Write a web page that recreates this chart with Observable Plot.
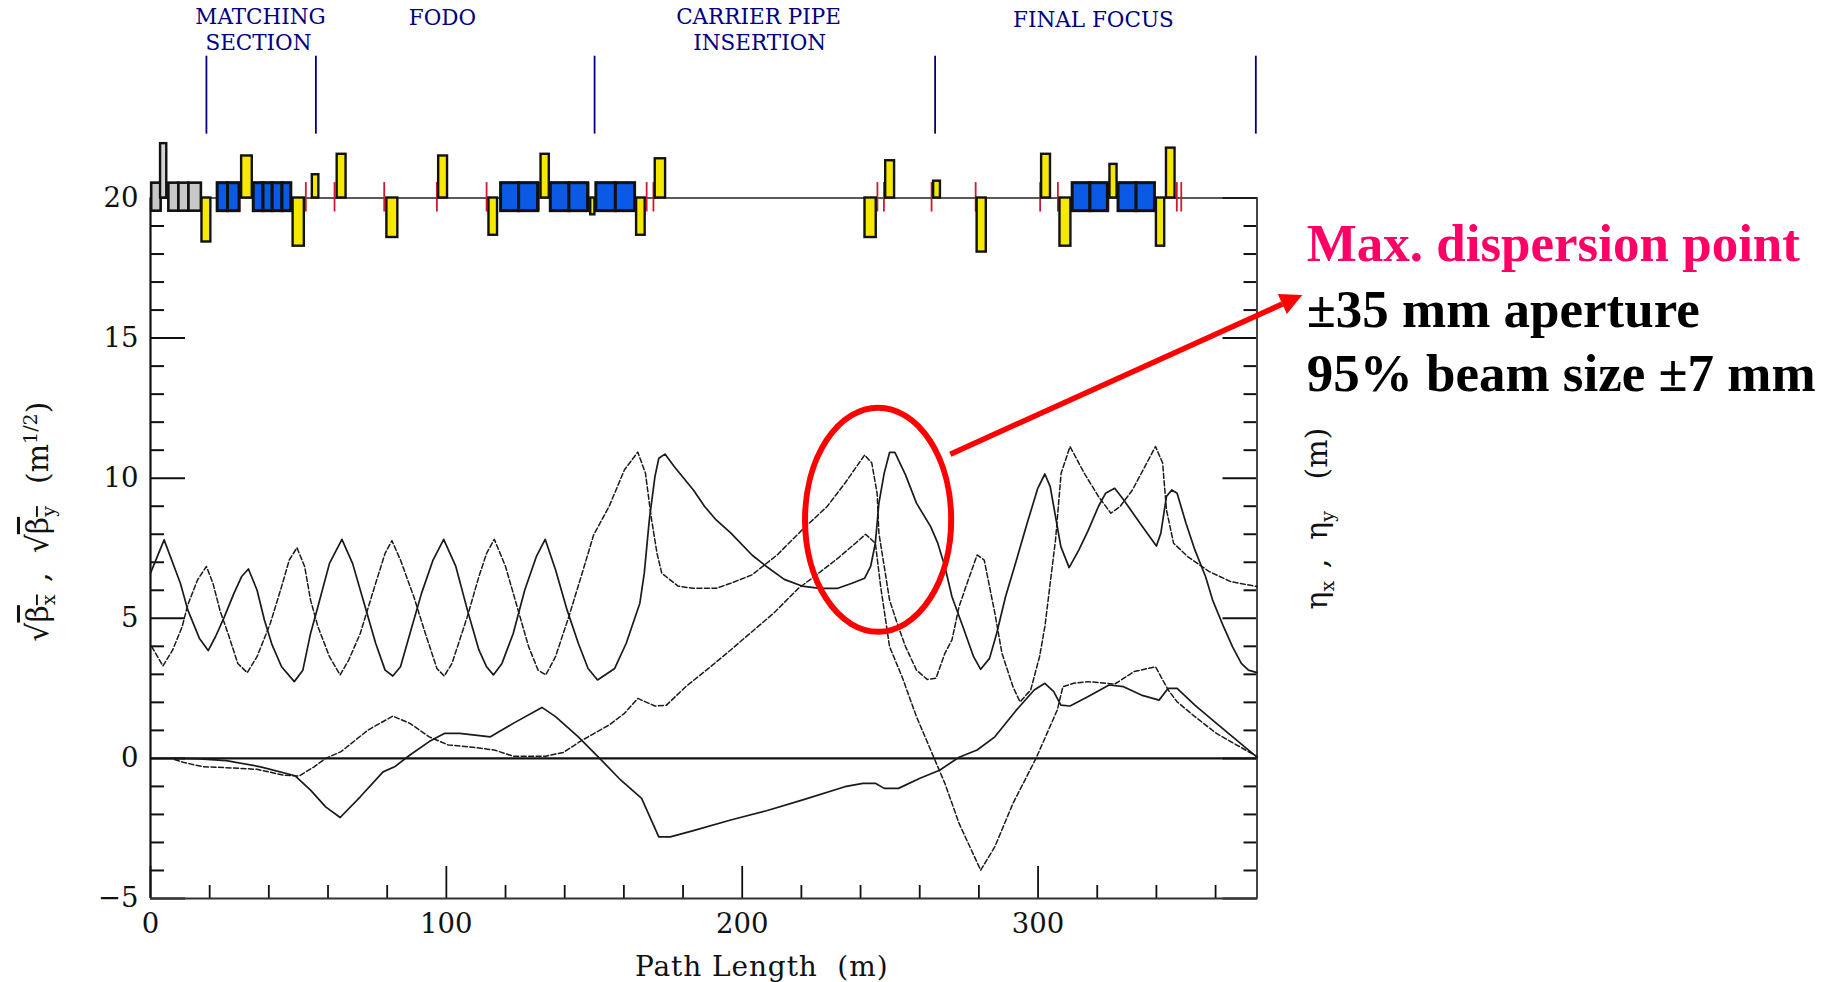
<!DOCTYPE html>
<html><head><meta charset="utf-8">
<script src="https://cdn.jsdelivr.net/npm/d3@7"></script>
<script src="https://cdn.jsdelivr.net/npm/@observablehq/plot@0.6"></script>
<style>html,body{margin:0;padding:0;background:#fff}svg{display:block}</style>
</head><body><div id="chart"></div>
<script>
const betaX=[[0,6.61],[4.6,7.8],[10.1,6.25],[12.6,5.3],[16.5,4.29],[19.5,3.85],[22,4.35],[25,5.06],[28.2,5.89],[30.8,6.49],[33.1,6.76],[36,6.01],[38.5,4.94],[41.1,4.05],[44.3,3.27],[48.6,2.74],[51.5,3.15],[54.1,4.46],[56.6,5.42],[60.5,6.96],[64.7,7.82],[68.3,6.96],[72.2,5.54],[76.1,4.11],[79.3,3.15],[81.9,2.94],[84.5,3.27],[87.7,4.46],[91.6,5.89],[95.5,7.08],[99.1,7.82],[103.2,6.85],[107.1,5.3],[111,3.87],[113.6,3.27],[115.9,2.98],[118.8,3.39],[122.6,4.46],[126.5,6.01],[130.4,7.2],[133.4,7.82],[136.9,6.73],[140.8,5.3],[144.6,4.11],[147.9,3.21],[151.1,2.8],[156.9,3.21],[160.8,4.11],[165.4,5.54],[166.9,6.61],[168.6,8.51],[170.5,10.06],[171.8,10.71],[173.9,10.86],[177,10.42],[183.5,9.58],[187.3,8.99],[191.2,8.51],[196.1,8.05],[203.3,7.26],[208.2,6.85],[214.2,6.39],[220.2,6.15],[226.3,6.07],[232.3,6.07],[237.1,6.25],[241.4,6.43],[243.4,6.85],[245,7.68],[246.2,9.11],[248,10.18],[249.8,10.92],[251.6,10.92],[255.2,10.12],[258.9,9.11],[263.7,8.27],[266.1,7.68],[268.5,6.85],[270.9,5.77],[274.6,4.7],[278.2,3.63],[280.6,3.18],[283.6,3.57],[286,4.46],[289,5.77],[292.7,7.08],[296.3,8.39],[299.9,9.64],[302.3,10.15],[304.1,9.7],[305.9,8.63],[307.7,7.56],[310.5,6.81],[313.8,7.44],[316.8,8.1],[320.4,8.99],[322.8,9.46],[325.9,9.64],[328.9,9.23],[332.5,8.69],[336.1,8.15],[340,7.58],[341.5,8.04],[343.4,9.35],[345.2,9.58],[347,9.46],[350,8.39],[353,7.44],[356.6,6.49],[359,5.65],[362.7,4.7],[365.7,3.99],[368.7,3.39],[371.1,3.15],[374,3.06]];
const betaY=[[0.4,3.99],[4.2,3.3],[7.5,3.87],[10.7,4.7],[12.6,5.48],[15.9,6.37],[18.9,6.85],[21.1,6.25],[23.6,5.24],[26.2,4.46],[29.5,3.39],[32.7,3.06],[36,3.63],[40.5,4.82],[44.3,6.13],[46.9,7.08],[49.5,7.52],[52.1,6.85],[54.1,5.65],[56.6,4.7],[60.5,3.63],[64.1,2.98],[67,3.51],[70.9,4.46],[76.1,6.25],[79.3,7.32],[81.6,7.77],[84.5,7.08],[89,5.77],[92.9,4.46],[96.8,3.21],[99.3,2.94],[101.9,3.39],[107.1,5.06],[111,6.49],[113.6,7.32],[116.2,7.82],[120,6.85],[123.9,5.42],[127.8,3.99],[131,3.15],[133.6,2.98],[136.9,3.63],[141.4,5.06],[145.9,6.61],[149.8,7.98],[155,8.99],[160.2,10.3],[164.7,10.93],[167.3,10.18],[169.2,8.63],[171.2,7.32],[172.8,6.61],[178.3,6.15],[183.5,6.07],[191.2,6.07],[196.1,6.25],[203.3,6.55],[211.8,7.26],[220.2,8.15],[228.7,8.99],[234.7,9.82],[241.4,10.83],[243.8,10.54],[245.6,9.46],[246.2,8.04],[248,6.85],[249.8,5.65],[252.2,4.88],[255.2,3.99],[258.9,3.15],[262.5,2.82],[265.5,2.86],[268.5,3.75],[270.9,4.23],[273.3,5.42],[276.4,6.37],[279.4,7.26],[281.8,7.08],[283.6,6.13],[285.4,5.18],[287.8,3.75],[291.5,2.56],[293.9,2.02],[297.5,2.44],[300.5,3.63],[302.3,4.7],[304.1,6.25],[305.9,7.8],[307.8,10.18],[310.8,11.13],[315.6,10.18],[320.4,9.35],[324.6,8.75],[327.7,8.99],[331.9,9.58],[339.7,11.13],[342.1,10.54],[343.4,8.87],[345.8,7.68],[350.6,7.2],[357.8,6.67],[365.1,6.31],[374.1,6.13]];
const etaX=[[8.1,0],[16.5,-0.02],[25.6,-0.08],[37.2,-0.3],[48.9,-0.62],[54.1,-1.13],[59.2,-1.73],[64.1,-2.11],[70.9,-1.37],[78.6,-0.48],[82.5,-0.3],[87.7,0.12],[94.2,0.6],[99.3,0.89],[104.5,0.89],[114.9,0.77],[122.6,1.25],[132.3,1.82],[136.9,1.49],[144.6,0.77],[152.4,-0.06],[158.9,-0.77],[166,-1.43],[171.8,-2.8],[175.7,-2.8],[183.5,-2.58],[196.1,-2.2],[208.2,-1.87],[220.2,-1.49],[234.7,-1.01],[240.8,-0.89],[245,-0.89],[248,-1.07],[252.8,-1.07],[260.1,-0.71],[266.7,-0.42],[273.3,0.04],[279.4,0.3],[285.4,0.77],[292.7,1.73],[298.7,2.44],[302.3,2.68],[305.3,2.38],[307.7,1.9],[310.8,1.87],[316.8,2.2],[324,2.62],[328.9,2.56],[334.9,2.26],[340.9,2.08],[344,2.5],[347,2.5],[353,1.9],[360.3,1.25],[374.1,0.04]];
const etaY=[[8.1,-0.04],[11.4,-0.15],[17.8,-0.3],[25.6,-0.33],[36,-0.39],[45,-0.6],[50.2,-0.63],[55.3,-0.3],[59.2,0],[64.4,0.24],[73.5,1.01],[81.9,1.51],[87.7,1.25],[94.2,0.77],[100.6,0.48],[107.1,0.42],[116.2,0.3],[122.6,0.08],[133.6,0.08],[139.5,0.21],[145.9,0.65],[155,1.19],[160.2,1.61],[164.7,2.14],[170.5,1.87],[174.4,1.9],[180.9,2.56],[188.6,3.21],[196.1,3.87],[203.3,4.52],[210.6,5.18],[219,6.07],[225.1,6.55],[232.3,7.14],[238.3,7.68],[241.7,8],[245,7.68],[246.8,6.13],[249.8,3.99],[254,2.92],[258.9,1.49],[264.9,0],[268.5,-0.89],[273.3,-2.32],[280.6,-3.99],[285.4,-3.15],[291.5,-1.61],[299.3,0],[306.5,1.73],[308.4,2.56],[312,2.68],[316.8,2.74],[325.9,2.65],[332.5,3.1],[339.7,3.27],[344,2.44],[347,2.02],[353,1.49],[360.3,0.89],[374.1,0.06]];

// lattice elements: [start, end, top/bottom]
const greyBlocks=[[0.4,3.6],[6.2,9.6],[9.6,13],[13,17.2]];
const greyTall=[[3.4,5.5,21.94]];
const blueBlocks=[[22.7,26.2],[26.2,30.1],[34.9,38.2],[38.2,41.3],[41.3,44.6],[44.6,47.6],[118.5,124.6],[124.6,131],[135.3,141.6],[141.6,147.9],[150.7,157.3],[157.3,163.8],[311.7,317.7],[317.7,323.6],[327.2,333.3],[333.3,339.5]];
const yellowBars=[[17.4,20.4,18.43],[30.8,34.4,21.5],[48.2,52,18.28],[54.7,56.9,20.83],[63.1,66.1,21.56],[79.9,83.6,18.59],[97.4,100.4,21.5],[114.4,117.3,18.67],[132,134.8,21.56],[148.8,150.2,19.4],[164.3,167.2,18.67],[170.6,174.1,21.4],[241.5,245.3,18.59],[248.5,251.5,21.33],[264.7,267,20.6],[279.4,282.5,18.07],[301.2,304.2,21.56],[307.4,311.1,18.28],[324.3,326.7,21.2],[340,342.8,18.28],[343.4,346.3,21.78]];
const redSlits=[30.1,52.5,62.2,79,96.8,113.6,131.3,148.1,167.7,170,245.7,247.9,264,278.9,300.7,306.7,323.8,346.9,348.4];
const sectionEdges=[18.9,55.9,150.1,265.2,373.6];
const sectionLabels=["MATCHING","SECTION","FODO","CARRIER PIPE","INSERTION","FINAL FOCUS"];
const sectionLabelX=[37.2,36.5,98.7,205.5,205.9,318.7];
const sectionLabelY=[26.46,25.53,26.43,26.46,25.53,26.36];
const noteLines=["Max. dispersion point","±35 mm aperture","95% beam size ±7 mm"];
const noteColors=["#ff0066","#000","#000"];
const noteY=[18.37,16.0,13.7];
const xMajor=[0,100,200,300];
const xMinor=[20,40,60,80,120,140,160,180,220,240,260,280,320,340,360];
const yMajor=[-5,0,5,10,15,20];
const yMinor=[-4,-3,-2,-1,1,2,3,4,6,7,8,9,11,12,13,14,16,17,18,19];

const SLAB='"DejaVu Serif",serif';
const SVGNS="http://www.w3.org/2000/svg";
const rows=a=>a.map(([x,y])=>({x,y}));
const ellipse=(c,r)=>(index,scales)=>{
  const e=document.createElementNS(SVGNS,"ellipse");
  e.setAttribute("cx",scales.x(c[0]));e.setAttribute("cy",scales.y(c[1]));
  e.setAttribute("rx",scales.x(r[0])-scales.x(0));e.setAttribute("ry",scales.y(0)-scales.y(r[1]));
  e.setAttribute("fill","none");e.setAttribute("stroke","#ff0000");e.setAttribute("stroke-width",6);
  return e;
};
const arrowHead=(from,to,len,half)=>(index,scales)=>{
  const x0=scales.x(from[0]),y0=scales.y(from[1]),x1=scales.x(to[0]),y1=scales.y(to[1]);
  const L=Math.hypot(x1-x0,y1-y0),ux=(x1-x0)/L,uy=(y1-y0)/L;
  const bx=x1-ux*len,by=y1-uy*len;
  const g=document.createElementNS(SVGNS,"g");
  const l=document.createElementNS(SVGNS,"line");
  l.setAttribute("x1",x0);l.setAttribute("y1",y0);l.setAttribute("x2",bx);l.setAttribute("y2",by);
  l.setAttribute("stroke","#ff0000");l.setAttribute("stroke-width",5.5);
  const p=document.createElementNS(SVGNS,"polygon");
  p.setAttribute("points",`${x1},${y1} ${bx-uy*half},${by+ux*half} ${bx+uy*half},${by-ux*half}`);
  p.setAttribute("fill","#ff0000");
  g.append(l,p);
  return g;
};
const rect=(data,fill,sw)=>Plot.rect(data,{x1:d=>d[0],x2:d=>d[1],y1:d=>d[2]??19.53,y2:d=>d[3]??20.53,fill,stroke:"#111",strokeWidth:sw});
const lineOpts={x:"x",y:"y",stroke:"#1a1a1a",strokeWidth:1.7,curve:"linear"};
const dashed={...lineOpts,strokeDasharray:"5,2.5",strokeWidth:1.5};

const chart=Plot.plot({
  width:1836,height:982,
  marginLeft:150,marginRight:579.5,marginTop:197.5,marginBottom:84,
  style:{background:"#fff",overflow:"visible"},
  x:{domain:[0,374]},
  y:{domain:[-5,20]},
  marks:[
    Plot.axisX({anchor:"bottom",ticks:xMinor,tickSize:-13,tickFormat:()=>"",label:null,strokeWidth:1.8,stroke:"#111"}),
    Plot.axisX({anchor:"bottom",ticks:xMajor,tickSize:-32,tickPadding:47,tickFormat:d=>d,label:null,fontFamily:SLAB,fontSize:27.5,strokeWidth:1.8,stroke:"#111",color:"#111"}),
    Plot.axisY({anchor:"left",ticks:yMinor,tickSize:-14,tickFormat:()=>"",label:null,strokeWidth:2,stroke:"#111"}),
    Plot.axisY({anchor:"left",ticks:yMajor,tickSize:-35,tickPadding:47,tickFormat:d=>d===-5?"−5":d,label:null,fontFamily:SLAB,fontSize:27.5,strokeWidth:2,stroke:"#111",color:"#111"}),
    Plot.axisY({anchor:"right",ticks:yMinor,tickSize:-14,tickFormat:()=>"",label:null,strokeWidth:2,stroke:"#111"}),
    Plot.axisY({anchor:"right",ticks:yMajor,tickSize:-35,tickFormat:()=>"",label:null,strokeWidth:2,stroke:"#111"}),
    Plot.ruleX([0],{y1:-5,y2:20,stroke:"#111",strokeWidth:2.2}),
    Plot.ruleX([374],{y1:-5,y2:20,stroke:"#444",strokeWidth:2}),
    Plot.ruleY([-5],{x1:0,x2:374,stroke:"#333",strokeWidth:2.2}),
    Plot.ruleY([0],{x1:0,x2:374,stroke:"#111",strokeWidth:2.4}),
    Plot.ruleY([20],{x1:0,x2:374,stroke:"#222",strokeWidth:1.3}),
    Plot.line(rows(betaX),lineOpts),
    Plot.line(rows(betaY),dashed),
    Plot.line(rows(etaX),lineOpts),
    Plot.line(rows(etaY),dashed),
    rect(greyBlocks,"#c8c8c8",2.6),
    rect(greyTall.map(d=>[d[0],d[1],20,d[2]]),"#d4d4d4",2.4),
    Plot.ruleX(redSlits,{y1:19.5,y2:20.55,stroke:"#d01830",strokeWidth:1.8}),
    rect(blueBlocks,"#0a5ae6",3),
    rect(yellowBars.map(d=>[d[0],d[1],20,d[2]]),"#f6e800",2.4),
    Plot.ruleX(sectionEdges,{y1:22.28,y2:25.06,stroke:"#000080",strokeWidth:1.8}),
    Plot.text(sectionLabels,{x:(d,i)=>sectionLabelX[i],y:(d,i)=>sectionLabelY[i],text:d=>d,fill:"#000080",fontFamily:SLAB,fontSize:21.5}),
    ellipse([246.1,8.5],[24.7,4]),
    arrowHead([270.5,10.84],[389.5,16.52],22,11),
    Plot.text(noteLines,{x:390.8,y:(d,i)=>noteY[i],text:d=>d,fill:(d,i)=>noteColors[i],textAnchor:"start",fontFamily:'"Liberation Serif",serif',fontWeight:"bold",fontSize:53}),
    Plot.text(["Path Length  (m)"],{x:206.6,y:-7.45,fontFamily:SLAB,fontSize:28,fill:"#111"}),
    Plot.text(["BETA_LABEL"],{x:-37.9,y:8.45,rotate:-90,fontFamily:SLAB,fontSize:30,fill:"#111"}),
    Plot.text(["ETA_LABEL"],{x:394.5,y:8.56,rotate:-90,fontFamily:SLAB,fontSize:30,fill:"#111"})
  ]
});
// axis labels with overlines, subscripts and superscripts as real text
const sub=t=>`<tspan font-size="19" dy="7">${t}</tspan><tspan dy="-7">&#8202;</tspan>`;
const root=b=>`√<tspan text-decoration="overline">β<tspan font-size="19" dy="7">${b}</tspan></tspan><tspan dy="-7">&#8202;</tspan>`;
chart.querySelectorAll("text").forEach(t=>{
  const s=t.textContent.trim();
  const el=t.querySelector("tspan")||t;
  if(s==="BETA_LABEL") el.innerHTML=`${root("x")} ,  ${root("y")}  (m<tspan font-size="19" dy="-11">1/2</tspan><tspan dy="11">)</tspan>`;
  if(s==="ETA_LABEL") el.innerHTML=`η${sub("x")} ,  η${sub("y")}   (m)`;
  if(s.startsWith("Path Length")) t.setAttribute("letter-spacing","0.9");
});
document.getElementById("chart").append(chart);
</script></body></html>
